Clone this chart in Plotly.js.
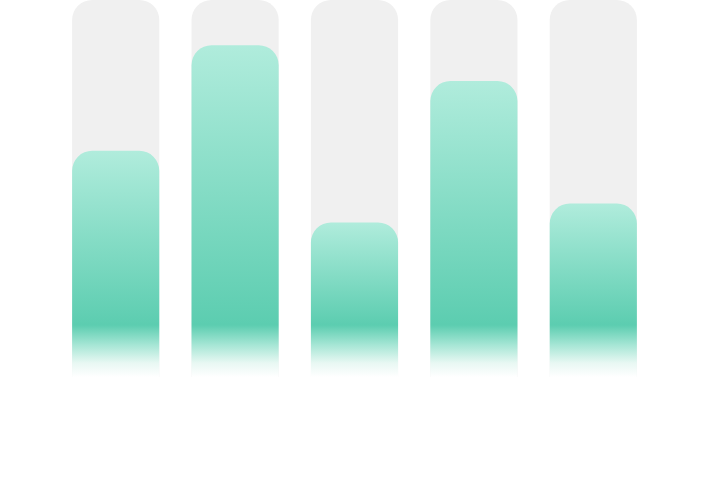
<!DOCTYPE html>
<html>
<head>
<meta charset="utf-8">
<script src="https://cdn.plot.ly/plotly-3.0.1.min.js"></script>
<style>
  html, body { margin: 0; padding: 0; background: #fff; }
  #chart { width: 711px; height: 480px; }
</style>
</head>
<body>
<div id="chart"></div>
<script>
// bar data
const categories = ['A', 'B', 'C', 'D', 'E'];
const trackValues = [100, 100, 100, 100, 100];
const values = [60, 88, 41, 78.5, 46];

const LIGHT = '#b0ecdc';
const DARK = '#5ccdb0';

const gd = document.getElementById('chart');

// green bars sit on their own overlaid y axis so each set keeps its rounded top
const traces = [
    {
        type: 'bar',
        x: categories,
        y: trackValues,
        marker: { color: '#f0f0f0', cornerradius: 20 },
        hoverinfo: 'skip'
    },
    {
        type: 'bar',
        x: categories,
        y: values,
        yaxis: 'y2',
        marker: { color: DARK, cornerradius: 20 },
        hoverinfo: 'skip'
    }
];

const layout = {
    width: 711,
    height: 480,
    margin: { l: 56, r: 58, t: 0, b: 103 },
    barmode: 'overlay',
    bargap: 0.27,
    showlegend: false,
    paper_bgcolor: '#ffffff',
    plot_bgcolor: '#ffffff',
    xaxis: { visible: false, fixedrange: true },
    yaxis: { visible: false, range: [0, 100], fixedrange: true },
    yaxis2: { visible: false, range: [0, 100], fixedrange: true, overlaying: 'y' }
};

Plotly.newPlot(gd, traces, layout, { displayModeBar: false, staticPlot: true }).then(() => {
    // Plotly has no gradient fill for bars, so swap in an svg gradient per bar:
    // light at the bar top, full green near the base, then fading out to white
    const defs = gd.querySelector('svg.main-svg defs');
    const ns = 'http://www.w3.org/2000/svg';
    const greenTrace = gd.querySelector('.xy2 .barlayer .trace') ||
        gd.querySelectorAll('.barlayer .trace')[1];
    const paths = greenTrace.querySelectorAll('path');

    paths.forEach((p, i) => {
        const box = p.getBBox();
        const top = box.y;
        const bottom = box.y + box.height;
        const h = box.height;
        const off = y => Math.max(0, Math.min(1, (y - top) / h));

        const grad = document.createElementNS(ns, 'linearGradient');
        grad.setAttribute('id', 'barfill' + i);
        grad.setAttribute('gradientUnits', 'userSpaceOnUse');
        grad.setAttribute('x1', 0);
        grad.setAttribute('x2', 0);
        grad.setAttribute('y1', top);
        grad.setAttribute('y2', bottom);

        const stops = [
            [0, LIGHT],
            [off(bottom - 52), DARK],
            [off(bottom - 32), '#a6e6d5'],
            [off(bottom - 14), '#e8f8f3'],
            [1, '#ffffff']
        ];
        stops.forEach(([o, c]) => {
            const s = document.createElementNS(ns, 'stop');
            s.setAttribute('offset', o);
            s.setAttribute('stop-color', c);
            grad.appendChild(s);
        });
        defs.appendChild(grad);
        p.style.fill = 'url(#barfill' + i + ')';
    });
});
</script>
</body>
</html>
